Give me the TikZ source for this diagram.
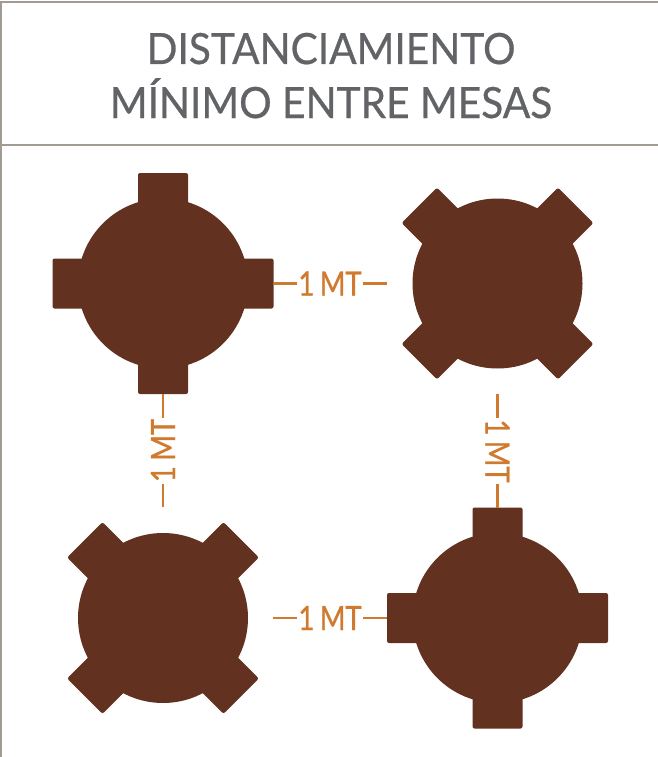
\documentclass[tikz,border=0pt]{standalone}
\usepackage{fontspec}
\setmainfont{Lato}
\newfontfamily\titlefont[FakeStretch=0.945,FakeBold=0.6]{Lato}
\newfontfamily\distfont[FakeStretch=0.82,FakeBold=0.9]{Lato}
\definecolor{framegray}{HTML}{A29B93}
\definecolor{titlegray}{HTML}{626366}
\definecolor{tablebrown}{HTML}{623120}
\definecolor{linkorange}{HTML}{CF7A2E}
\tikzset{
  top/.style={circle,fill=tablebrown,minimum size=170pt,inner sep=0pt,outer sep=0pt},
  chairbar/.style={rectangle,fill=tablebrown,minimum width=221pt,minimum height=50pt,inner sep=0pt,outer sep=0pt,rounded corners=2pt},
  distlabel/.style={text=linkorange,inner sep=0pt,outer sep=0pt,minimum width=66pt,minimum height=24pt,font=\distfont\fontsize{33.5}{33.5}\selectfont},
  link/.style={draw=linkorange,line width=2.6pt},
  rule/.style={draw=framegray,line width=2.4pt},
  titletext/.style={text=titlegray,anchor=base,inner sep=0pt,font=\titlefont\fontsize{43}{43}\selectfont}
}
\begin{document}
\begin{tikzpicture}[x=1pt,y=-1pt]
\useasboundingbox (0,0) rectangle (658,757);
\fill[white] (0,0) rectangle (658,757);
% frame
\coordinate (fa) at (658,2);
\coordinate (fb) at (1,2);
\coordinate (fc) at (1,757);
\coordinate (ma) at (1,145);
\coordinate (mb) at (658,145);
\draw[rule] (fa) -- (fb) -- (fc);
\draw[rule] (ma) -- (mb);
% title
\node[titletext] (t1) at (331,64) {DISTANCIAMIENTO};
\node[titletext] (t2) at (331,118) {MÍNIMO ENTRE MESAS};
% table A (straight)
\node[top] (A) at (163,283.5) {};
\node[chairbar] (Ah) at (A) {};
\node[chairbar,rotate=90] (Av) at (A) {};
% table B (diagonal)
\node[top] (B) at (497.5,283.5) {};
\node[chairbar,rotate=45] (Bd1) at (B) {};
\node[chairbar,rotate=-45] (Bd2) at (B) {};
% table C (diagonal)
\node[top] (C) at (163,618) {};
\node[chairbar,rotate=45] (Cd1) at (C) {};
\node[chairbar,rotate=-45] (Cd2) at (C) {};
% table D (straight)
\node[top] (D) at (497.5,618) {};
\node[chairbar] (Dh) at (D) {};
\node[chairbar,rotate=90] (Dv) at (D) {};
% distance labels
\node[distlabel] (lab) at (330,283.5) {1\,MT};
\node[distlabel] (lcd) at (330,618) {1\,MT};
\node[distlabel,rotate=90] (lac) at (163,450.5) {1\,MT};
\node[distlabel,rotate=-90] (lbd) at (497.5,451) {1\,MT};
\coordinate (eb) at (387,283.5);
\coordinate (ec) at (163,507);
\coordinate (ee) at (497.5,394);
\coordinate (ef) at (273,618);
\draw[link] (Ah.east) -- (lab.west);
\draw[link] (lab.east) -- (eb);
\draw[link] (Av.west) -- (lac.east);
\draw[link] (lac.west) -- (ec);
\draw[link] (ef) -- (lcd.west);
\draw[link] (lcd.east) -- (Dh.west);
\draw[link] (ee) -- (lbd.west);
\draw[link] (lbd.east) -- (Dv.east);
\end{tikzpicture}
\end{document}
